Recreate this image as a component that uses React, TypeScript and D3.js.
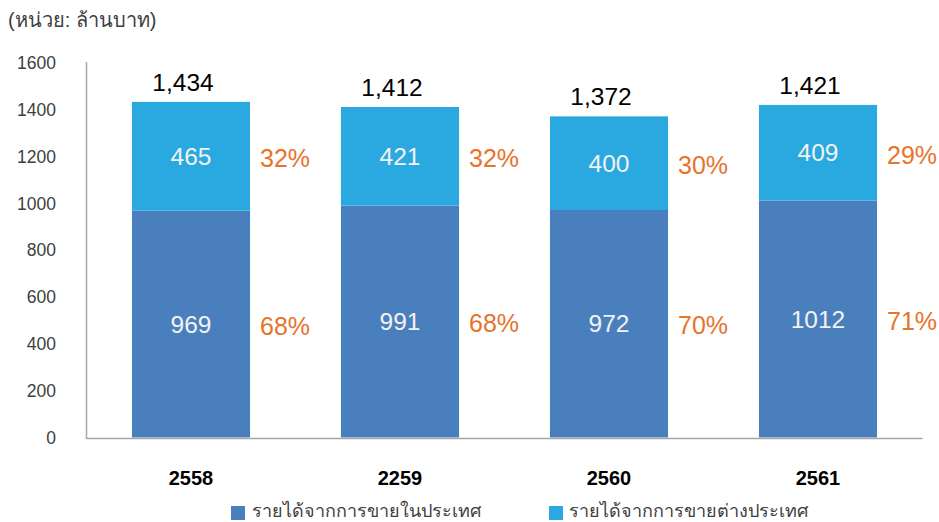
import React from "react";
import * as d3 from "d3";

const years = ["2558", "2259", "2560", "2561"];
const domestic = [969, 991, 972, 1012];
const foreign = [465, 421, 400, 409];
const totals = ["1,434", "1,412", "1,372", "1,421"];
const domesticPct = ["68%", "68%", "70%", "71%"];
const foreignPct = ["32%", "32%", "30%", "29%"];
const yTicks = [0, 200, 400, 600, 800, 1000, 1200, 1400, 1600];
const seriesNames = ["รายได้จากการขายในประเทศ", "รายได้จากการขายต่างประเทศ"];
const unitLabel = "(หน่วย: ล้านบาท)";

const W = 939;
const H = 522;
const FONT = "'Liberation Sans', Arial, 'Noto Sans', sans-serif";
const C_DOM = "#4A7FBE";
const C_FOR = "#2AA9E1";
const C_PCT = "#E8732A";

export default function App() {
  const left = 86.5;
  const right = 922.5;
  const y = d3.scaleLinear().domain([0, 1600]).range([437.5, 63]);
  const x = d3.scaleBand().domain(years).range([left, right]).paddingInner(0.435).paddingOuter(0.2175);
  const bw = x.bandwidth();

  return (
    <svg width={W} height={H} style={{ position: "absolute", left: 0, top: 0, background: "#fff" }} fontFamily={FONT}>
      <text x={8} y={27} fontSize={20} fill="#404040">{unitLabel}</text>
      {yTicks.map((t) => (
        <text key={t} x={56} y={y(t)} dy="0.35em" textAnchor="end" fontSize={17.5} fill="#404040">{t}</text>
      ))}
      {years.map((yr, i) => {
        const x0 = x(yr)!;
        const cx = x0 + bw / 2;
        const d = domestic[i];
        const f = foreign[i];
        const yd = y(d);
        const yt = y(d + f);
        const y0 = y(0);
        return (
          <g key={yr}>
            <rect x={x0} y={yd} width={bw} height={y0 - yd} fill={C_DOM} />
            <rect x={x0} y={yt} width={bw} height={yd - yt} fill={C_FOR} />
            <text x={cx} y={(yd + y0) / 2} dy="0.35em" textAnchor="middle" fontSize={24.5} fill="#F2F2F2">{d}</text>
            <text x={cx} y={(yt + yd) / 2} dy="0.35em" textAnchor="middle" fontSize={24.5} fill="#F2F2F2">{f}</text>
            <text x={cx - 8} y={yt - 11} textAnchor="middle" fontSize={24.5} fill="#000">{totals[i]}</text>
            <text x={x0 + bw + 10} y={(yd + y0) / 2 + 2} dy="0.35em" fontSize={25} fill={C_PCT}>{domesticPct[i]}</text>
            <text x={x0 + bw + 10} y={(yt + yd) / 2 + 2} dy="0.35em" fontSize={25} fill={C_PCT}>{foreignPct[i]}</text>
            <text x={cx} y={478} dy="0.35em" textAnchor="middle" fontSize={20} fontWeight="bold" fill="#000">{yr}</text>
          </g>
        );
      })}
      <line x1={left} x2={left} y1={62} y2={439} stroke="#A6A6A6" strokeWidth={1.5} />
      <line x1={left} x2={right} y1={438.5} y2={438.5} stroke="#A6A6A6" strokeWidth={1.5} />
      <rect x={231} y={506} width={14} height={14} fill={C_DOM} />
      <text x={252} y={511} dy="0.35em" fontSize={18} fill="#404040">{seriesNames[0]}</text>
      <rect x={549} y={506} width={14} height={14} fill={C_FOR} />
      <text x={569} y={511} dy="0.35em" fontSize={18} fill="#404040">{seriesNames[1]}</text>
    </svg>
  );
}
